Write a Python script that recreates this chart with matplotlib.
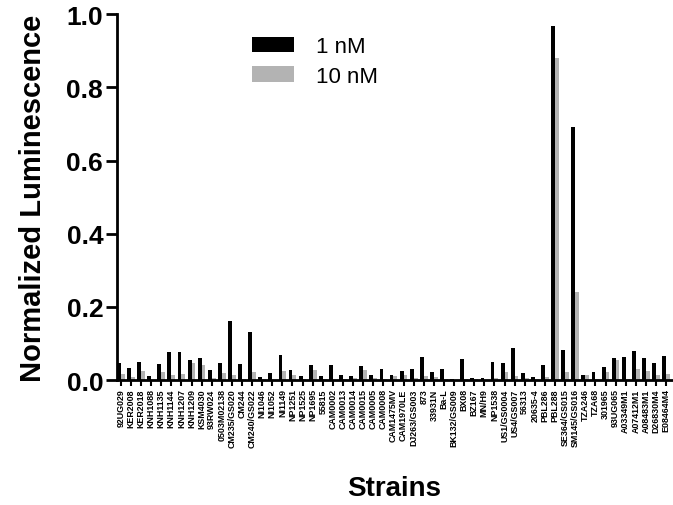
import matplotlib.pyplot as plt
import numpy as np

plt.rcParams['font.family'] = ['Liberation Sans', 'DejaVu Sans']

strains = ['92UG029', 'KER2008', 'KER2018', 'KNH1088', 'KNH1135', 'KNH1144',
           'KNH1207', 'KNH1209', 'KSM4030', '93RW024', '0503M02138',
           'CM235/GS020', 'CM244', 'CM240/GS022', 'NI1046', 'NI1052', 'NI1149',
           'NP1251', 'NP1525', 'NP1695', '55815', 'CAM0002', 'CAM0013',
           'CAM0014', 'CAM0015', 'CAM0005', 'CAM0008', 'CAM1475MV',
           'CAM1970LE', 'DJ263/GS003', '873', '33931N', 'Ba-L', 'BK132/GS009',
           'BX08', 'BZ167', 'MN/H9', 'NP1538', 'US1/GS0004', 'US4/GS007',
           '56313', '20635-4', 'PBL286', 'PBL288', 'SE364/GS015',
           'SM145/GS016', 'TZA246', 'TZA68', '301965', '93UG065', 'A03349M1',
           'A07412M1', 'A08483M1', 'D26830M4', 'E08464M4']

nm1 = [0.046, 0.033, 0.050, 0.012, 0.044, 0.077, 0.077, 0.054, 0.061, 0.027,
       0.046, 0.160, 0.044, 0.132, 0.007, 0.018, 0.069, 0.028, 0.010, 0.040,
       0.010, 0.042, 0.014, 0.010, 0.039, 0.014, 0.030, 0.015, 0.025, 0.031,
       0.062, 0.022, 0.029, 0.003, 0.057, 0.005, 0.005, 0.049, 0.046, 0.087,
       0.019, 0.008, 0.040, 0.968, 0.081, 0.692, 0.015, 0.021, 0.036, 0.061,
       0.062, 0.078, 0.060, 0.046, 0.066]

nm10 = [0.016, 0.009, 0.024, 0.001, 0.022, 0.013, 0.016, 0.046, 0.041, 0.005,
        0.019, 0.015, 0.002, 0.022, 0.003, 0.001, 0.025, 0.014, 0.002, 0.028,
        0.002, 0.001, 0.003, 0.005, 0.028, 0.005, 0.003, 0.010, 0.014, 0.005,
        0.011, 0.007, 0.002, 0.001, 0.002, 0.004, 0.001, 0.005, 0.022, 0.011,
        0.005, 0.002, 0.008, 0.879, 0.021, 0.240, 0.014, 0.002, 0.021, 0.055,
        0.002, 0.031, 0.025, 0.014, 0.016]

x = np.arange(len(strains))
w = 0.38

fig = plt.figure(figsize=(6.73, 5.06), dpi=100)
ax = fig.add_axes([0.174, 0.247, 0.824, 0.723])

ax.bar(x - w / 2, nm1, w, color='black', label='1 nM')
ax.bar(x + w / 2, nm10, w, color='#b3b3b3', label='10 nM')

ax.set_xlim(-0.37, len(strains) - 0.45)
ax.set_ylim(0, 1.0)
ax.set_yticks([0.0, 0.2, 0.4, 0.6, 0.8, 1.0])
ax.set_yticklabels(['0.0', '0.2', '0.4', '0.6', '0.8', '1.0'],
                   fontsize=19, fontweight='bold')
ax.set_xticks(x)
ax.set_xticklabels(strains, rotation=90, fontsize=6.4, fontweight='bold')

for s in ['top', 'right']:
    ax.spines[s].set_visible(False)
for s in ['left', 'bottom']:
    ax.spines[s].set_linewidth(2)
ax.tick_params(axis='y', width=2, length=8, pad=2)
ax.tick_params(axis='x', width=1.5, length=4, pad=2)

ax.set_ylabel('Normalized Luminescence', fontsize=21, fontweight='bold',
              labelpad=14)
ax.set_xlabel('Strains', fontsize=20, fontweight='bold', labelpad=20)

ax.legend(loc='upper left', bbox_to_anchor=(0.243, 0.94), frameon=False,
          fontsize=16, handlelength=1.9, handleheight=0.7, labelspacing=0.4,
          handletextpad=1.0, borderpad=0, borderaxespad=0)

fig.savefig('out.png', dpi=100)
